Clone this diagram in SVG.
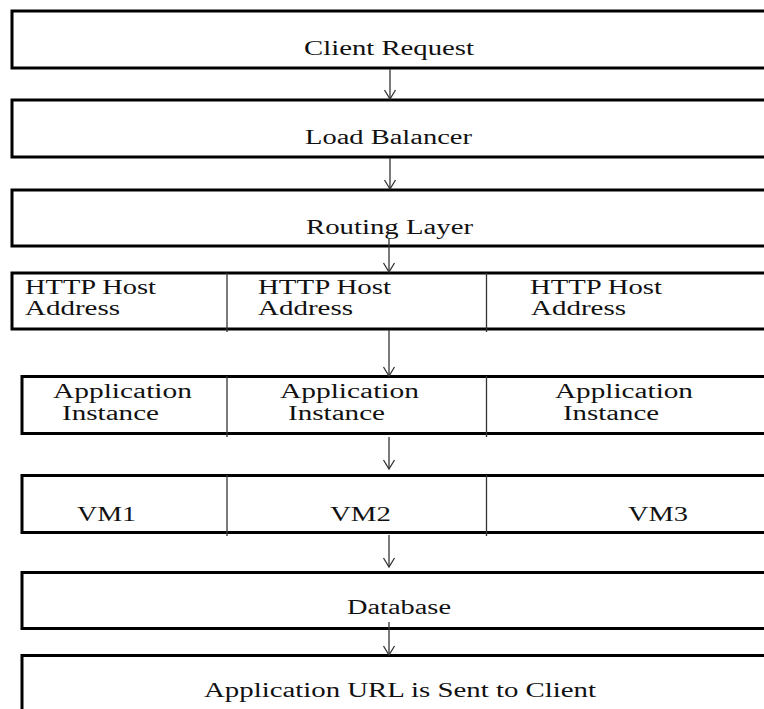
<svg xmlns="http://www.w3.org/2000/svg" width="764" height="709" viewBox="0 0 764 709">
  <style>
    .box { fill: #fff; stroke: #000; stroke-width: 3; }
    .div { stroke: #333; stroke-width: 1.3; }
    .arrow { stroke: #333; stroke-width: 1.3; fill: none; marker-end: url(#head); }
    text { font-family: "Liberation Serif", "Times New Roman", serif; font-size: 20px; fill: #111; }
  </style>
  <defs>
    <marker id="head" markerUnits="userSpaceOnUse" markerWidth="20" markerHeight="20" viewBox="-10 -10 20 20" refX="0" refY="0" orient="auto">
      <path d="M-9,-5.5 L0,0 L-9,5.5" fill="none" stroke="#333" stroke-width="1.3"/>
    </marker>
  </defs>
  <rect width="764" height="709" fill="#fff"/>

  <g id="client-request">
    <rect class="box" x="12" y="11" width="800" height="57"/>
    <text x="304" y="55" textLength="170" lengthAdjust="spacingAndGlyphs">Client Request</text>
  </g>

  <g id="load-balancer">
    <rect class="box" x="12" y="100" width="800" height="57"/>
    <text x="305" y="144" textLength="167" lengthAdjust="spacingAndGlyphs">Load Balancer</text>
  </g>

  <g id="routing-layer">
    <rect class="box" x="12" y="190" width="800" height="56"/>
    <text x="306" y="234" textLength="167" lengthAdjust="spacingAndGlyphs">Routing Layer</text>
  </g>

  <g id="http-host-address">
    <rect class="box" x="12" y="273" width="800" height="56"/>
    <line class="div" x1="227" y1="273" x2="227" y2="332"/>
    <line class="div" x1="486.5" y1="273" x2="486.5" y2="332"/>
    <text x="25" y="294" textLength="131" lengthAdjust="spacingAndGlyphs">HTTP Host</text>
    <text x="25" y="315" textLength="95" lengthAdjust="spacingAndGlyphs">Address</text>
    <text x="258" y="294" textLength="133" lengthAdjust="spacingAndGlyphs">HTTP Host</text>
    <text x="258" y="315" textLength="95" lengthAdjust="spacingAndGlyphs">Address</text>
    <text x="530" y="294" textLength="132" lengthAdjust="spacingAndGlyphs">HTTP Host</text>
    <text x="531" y="315" textLength="95" lengthAdjust="spacingAndGlyphs">Address</text>
  </g>

  <g id="application-instance">
    <rect class="box" x="22" y="376.5" width="800" height="57"/>
    <line class="div" x1="227" y1="376" x2="227" y2="437"/>
    <line class="div" x1="486.5" y1="376" x2="486.5" y2="437"/>
    <text x="53" y="398" textLength="139" lengthAdjust="spacingAndGlyphs">Application</text>
    <text x="62" y="420" textLength="97" lengthAdjust="spacingAndGlyphs">Instance</text>
    <text x="280" y="398" textLength="139" lengthAdjust="spacingAndGlyphs">Application</text>
    <text x="288" y="420" textLength="97" lengthAdjust="spacingAndGlyphs">Instance</text>
    <text x="555" y="398" textLength="138" lengthAdjust="spacingAndGlyphs">Application</text>
    <text x="563" y="420" textLength="96" lengthAdjust="spacingAndGlyphs">Instance</text>
  </g>

  <g id="virtual-machines">
    <rect class="box" x="22" y="475.5" width="800" height="57"/>
    <line class="div" x1="227" y1="475" x2="227" y2="536"/>
    <line class="div" x1="486.5" y1="475" x2="486.5" y2="536"/>
    <text x="77" y="521" textLength="59" lengthAdjust="spacingAndGlyphs">VM1</text>
    <text x="330" y="521" textLength="61" lengthAdjust="spacingAndGlyphs">VM2</text>
    <text x="628" y="521" textLength="60" lengthAdjust="spacingAndGlyphs">VM3</text>
  </g>

  <g id="database">
    <rect class="box" x="22" y="572.5" width="800" height="56"/>
    <text x="347" y="614" textLength="104" lengthAdjust="spacingAndGlyphs">Database</text>
  </g>

  <g id="application-url">
    <rect class="box" x="22" y="655.5" width="800" height="80"/>
    <text x="204" y="697" textLength="392" lengthAdjust="spacingAndGlyphs">Application URL is Sent to Client</text>
  </g>

  <g id="connectors">
    <line class="arrow" x1="390" y1="69" x2="390" y2="99"/>
    <line class="arrow" x1="390" y1="158" x2="390" y2="189"/>
    <line class="arrow" x1="389" y1="238" x2="389" y2="272"/>
    <line class="arrow" x1="389" y1="330" x2="389" y2="376"/>
    <line class="arrow" x1="389" y1="437" x2="389" y2="469"/>
    <line class="arrow" x1="389" y1="535" x2="389" y2="567"/>
    <line class="arrow" x1="389" y1="622" x2="389" y2="655"/>
  </g>
</svg>
